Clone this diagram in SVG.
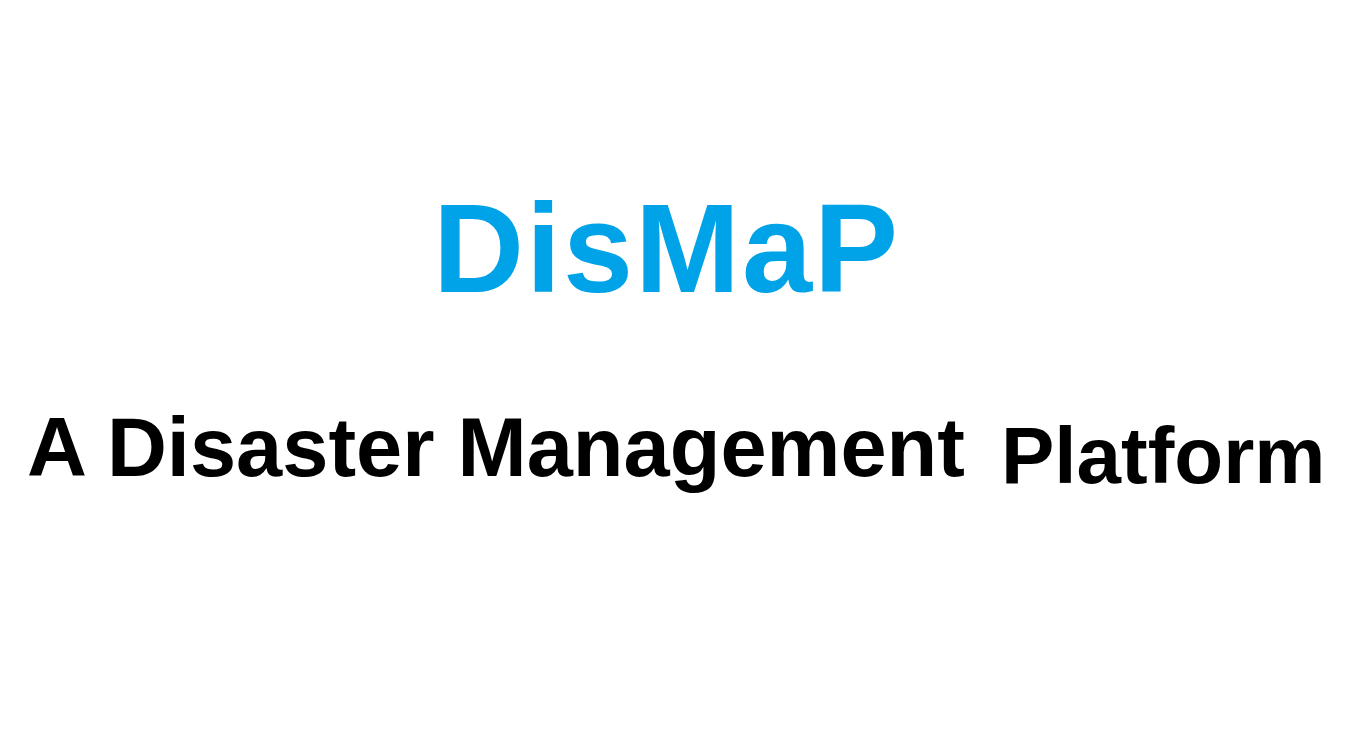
<svg xmlns="http://www.w3.org/2000/svg" width="1348" height="750" viewBox="0 0 1348 750">
<style>
text{font-family:"Liberation Sans",Arial,sans-serif;font-weight:bold}
.title{fill:#00A2E8;font-size:126px;letter-spacing:2px}
.sub{fill:#000000}
</style>
<rect width="1348" height="750" fill="#ffffff"/>
<g id="title"><text class="title" x="433" y="292">DisMaP</text></g>
<g id="subtitle1"><text class="sub" x="27" y="476" font-size="83">A Disaster Management</text></g>
<g id="subtitle2"><text class="sub" x="1001" y="483" font-size="80">Platform</text></g>
</svg>
